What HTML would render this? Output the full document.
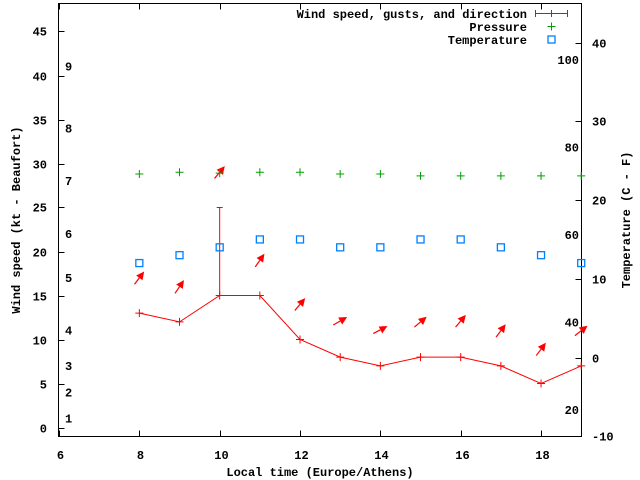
<!DOCTYPE html>
<html><head><meta charset="utf-8"><style>
body{margin:0;background:#fff}
svg{display:block}
text{font-family:"Liberation Mono","DejaVu Sans Mono",monospace;font-size:12px;font-weight:bold;fill:#000}
</style></head><body>
<svg id="chart" width="640" height="480" viewBox="0 0 640 480" xmlns="http://www.w3.org/2000/svg">
<g id="axes"></g>
<g id="marks"></g>
<g id="legend"></g>
</svg>
<script>
const hours=[8,9,10,11,12,13,14,15,16,17,18,19];
const wind=[13,12,15,15,10,8,7,8,8,7,5,7];
const gustHours=[10];
const gustValues=[25];
const pressure=[28.8,29.0,28.9,29.0,29.0,28.8,28.8,28.6,28.6,28.6,28.6,28.6];
const tempC=[12,13,14,15,15,14,14,15,15,14,13,12];
const arrowY=[17,16,29,19,14,12.1,11.1,12,12.1,11,8.9,11];
const arrowAngle=[53,56,50,55,50,30,28,40,50,53,53,38];
const xTicks=[6,8,10,12,14,16,18];
const yTicks=[0,5,10,15,20,25,30,35,40,45];
const tTicks=[-10,0,10,20,30,40];
const fLabels=[20,40,60,80,100];
const bftLabels=[1,2,3,4,5,6,7,8,9];
const bftKt=[1,4,7,11,17,22,28,34,41];

const L=58.5,R=581.5,T=3.5,B=436.5;
const X=h=>59+(h-6)*40.17;
const Y=v=>427.5-v*8.8;
const TY=c=>357.5-c*7.87;
const NS="http://www.w3.org/2000/svg";
function mk(tag,attrs,parent,txt){const e=document.createElementNS(NS,tag);for(const k in attrs)e.setAttribute(k,attrs[k]);if(txt!==undefined)e.textContent=txt;parent.appendChild(e);return e;}
const ax=document.getElementById('axes'),mg=document.getElementById('marks'),lg=document.getElementById('legend');

let e=mk('rect',{x:L,y:T,width:R-L,height:B-T,fill:'none',stroke:'#000','stroke-width':1},ax);


xTicks.forEach(h=>{const x=Math.round(X(h))+0.5;
 mk('line',{x1:x,y1:B,x2:x,y2:B-6,stroke:'#000'},ax);
 mk('line',{x1:x,y1:T,x2:x,y2:T+6,stroke:'#000'},ax);
 e=mk('text',{x:x+1,y:459,'text-anchor':'middle'},ax,h);
 
 });
yTicks.forEach(v=>{const y=Math.round(Y(v))+0.5;
 mk('line',{x1:L,y1:y,x2:L+6,y2:y,stroke:'#000'},ax);
 e=mk('text',{x:47,y:y+4,'text-anchor':'end'},ax,v);
 
 });
tTicks.forEach(c=>{const y=Math.round(TY(c))+0.5;
 mk('line',{x1:R,y1:y,x2:R-6,y2:y,stroke:'#000'},ax);
 e=mk('text',{x:592,y:y+4,'text-anchor':'start'},ax,c);
 
 });
fLabels.forEach(f=>{const c=(f-32)*5/9;
 e=mk('text',{x:579,y:TY(c)+4,'text-anchor':'end'},ax,f);
 
 });
bftLabels.forEach((b,i)=>{
 e=mk('text',{x:65,y:Y(bftKt[i])+4,'text-anchor':'start'},ax,b);
 
 });
e=mk('text',{x:320,y:476,'text-anchor':'middle'},ax,'Local time (Europe/Athens)');


e=mk('text',{x:0,y:0,'text-anchor':'middle',transform:'translate(20,220) rotate(-90)'},ax,'Wind speed (kt - Beaufort)');


e=mk('text',{x:0,y:0,'text-anchor':'middle',transform:'translate(630,220) rotate(-90)'},ax,'Temperature (C - F)');



e=mk('polyline',{points:hours.map((h,i)=>X(h)+','+Y(wind[i])).join(' '),fill:'none',stroke:'#f00','stroke-width':1},mg);


hours.forEach((h,i)=>{const x=X(h),y=Y(wind[i]);
 e=mk('path',{d:`M${x-4},${y}H${x+4}M${x},${y-4}V${y+4}`,stroke:'#f00'},mg);
 
 });
gustHours.forEach((h,i)=>{const x=X(h);
 e=mk('path',{d:`M${x},${Y(wind[hours.indexOf(h)])}V${Y(gustValues[i])}M${x-3},${Y(gustValues[i])}H${x+3}`,stroke:'#f00'},mg);
 
 });
hours.forEach((h,i)=>{const cx=X(h),cy=Y(arrowY[i]),a=arrowAngle[i]*Math.PI/180,len=16;
 const dx=Math.cos(a),dy=-Math.sin(a);
 const x1=cx-dx*len/2,y1=cy-dy*len/2,x2=cx+dx*len/2,y2=cy+dy*len/2;
 const px=-dy,py=dx,hl=8,hw=4;
 const bx=x2-dx*hl,by=y2-dy*hl;
 const g=mk('g',{},mg);
 
 
 mk('line',{x1:x1,y1:y1,x2:bx,y2:by,stroke:'#f00','stroke-width':1.2},g);
 mk('polygon',{points:`${x2},${y2} ${bx+px*hw},${by+py*hw} ${bx-px*hw},${by-py*hw}`,fill:'#f00'},g);});
hours.forEach((h,i)=>{const x=X(h),y=Y(pressure[i]);
 e=mk('path',{d:`M${x-4},${y}H${x+4}M${x},${y-4}V${y+4}`,stroke:'#00a000'},mg);
 
 });
hours.forEach((h,i)=>{const x=X(h),y=TY(tempC[i]);
 e=mk('rect',{x:x-3.5,y:y-3.5,width:7,height:7,fill:'none',stroke:'#0080ff','stroke-width':1.3},mg);
 
 });
e=mk('text',{x:527,y:18,'text-anchor':'end'},lg,'Wind speed, gusts, and direction');


e=mk('path',{d:'M535,13.5H568M535.5,10V17M567.5,10V17M551.5,10V17',stroke:'#f00'},lg);


e=mk('text',{x:527,y:31,'text-anchor':'end'},lg,'Pressure');


e=mk('path',{d:'M547.5,26.5H555.5M551.5,22.5V30.5',stroke:'#00a000'},lg);


e=mk('text',{x:527,y:44,'text-anchor':'end'},lg,'Temperature');


e=mk('rect',{x:548,y:36,width:7,height:7,fill:'none',stroke:'#0080ff','stroke-width':1.3},lg);


</script>
</body></html>
